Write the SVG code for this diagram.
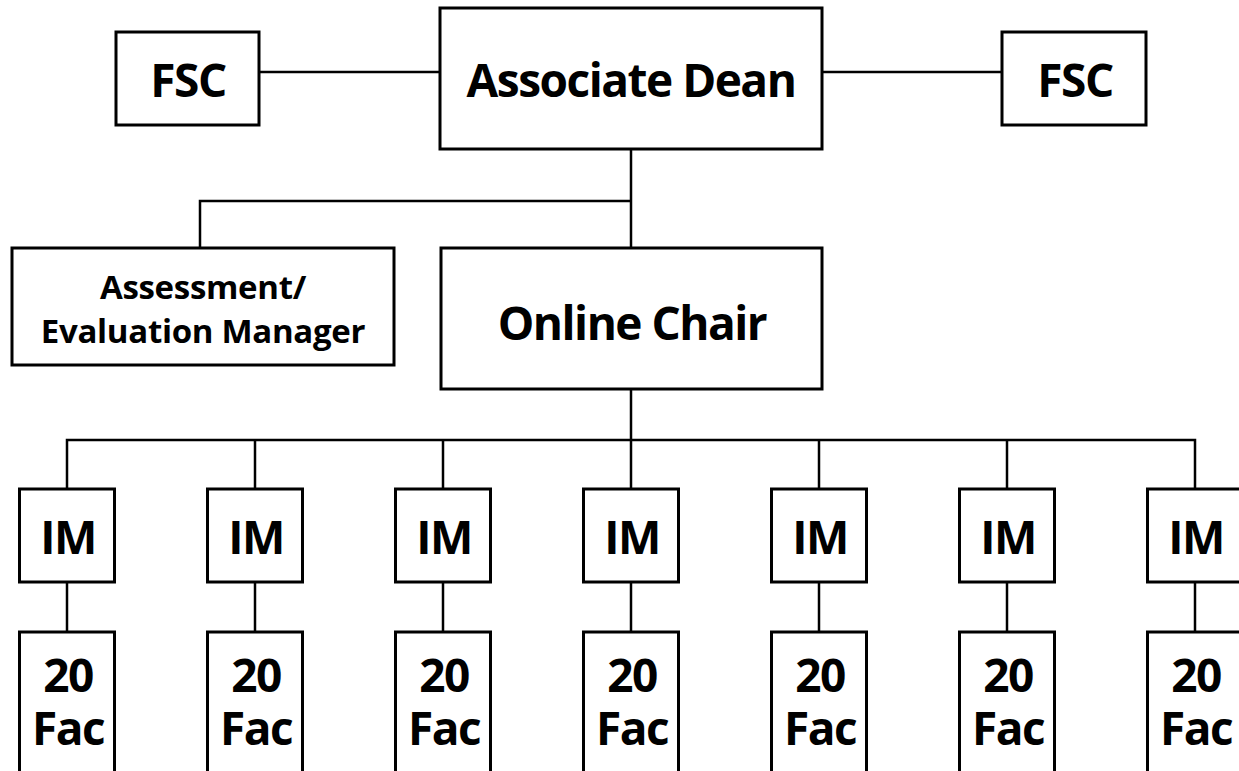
<svg xmlns="http://www.w3.org/2000/svg" width="1239" height="771" viewBox="0 0 1239 771">
<style>
.box{fill:#fff;stroke:#000;stroke-width:3}
.ln{fill:none;stroke:#000;stroke-width:2.5}
text{font-family:"Open Sans","Noto Sans","Liberation Sans",sans-serif;font-weight:bold;fill:#000;text-anchor:middle}
.big{font-size:46px;letter-spacing:-1.5px}
.mid{font-size:33px;letter-spacing:-0.3px}
</style>
<rect width="1239" height="771" fill="#fff"/>
<g id="connectors">
<line class="ln" x1="259" y1="72" x2="440" y2="72"/>
<line class="ln" x1="822" y1="72" x2="1002" y2="72"/>
<line class="ln" x1="631" y1="149" x2="631" y2="248"/>
<polyline class="ln" points="631,201 200,201 200,248"/>
<line class="ln" x1="631" y1="389" x2="631" y2="489"/>
<polyline class="ln" points="67,489 67,440 1195,440 1195,489"/>
<line class="ln" x1="255" y1="440" x2="255" y2="489"/>
<line class="ln" x1="443" y1="440" x2="443" y2="489"/>
<line class="ln" x1="819" y1="440" x2="819" y2="489"/>
<line class="ln" x1="1007" y1="440" x2="1007" y2="489"/>
<line class="ln" x1="67" y1="582" x2="67" y2="632"/>
<line class="ln" x1="255" y1="582" x2="255" y2="632"/>
<line class="ln" x1="443" y1="582" x2="443" y2="632"/>
<line class="ln" x1="631" y1="582" x2="631" y2="632"/>
<line class="ln" x1="819" y1="582" x2="819" y2="632"/>
<line class="ln" x1="1007" y1="582" x2="1007" y2="632"/>
<line class="ln" x1="1195" y1="582" x2="1195" y2="632"/>
</g>
<g id="fsc-left"><rect class="box" x="116" y="32" width="143" height="93"/><text class="big" x="188" y="97">FSC</text></g>
<g id="associate-dean"><rect class="box" x="440" y="8" width="382" height="141"/><text class="big" x="631" y="97">Associate Dean</text></g>
<g id="fsc-right"><rect class="box" x="1002" y="32" width="144" height="93"/><text class="big" x="1075" y="97">FSC</text></g>
<g id="assessment"><rect class="box" x="12" y="248" width="382" height="117"/><text class="mid" x="203" y="299">Assessment/<tspan x="203" dy="44">Evaluation Manager</tspan></text></g>
<g id="online-chair"><rect class="box" x="441" y="248" width="381" height="141"/><text class="big" x="632" y="340">Online Chair</text></g>
<g id="im1"><rect class="box" x="19.5" y="489" width="95" height="93"/><text class="big" x="68" y="554">IM</text></g>
<g id="im2"><rect class="box" x="207.5" y="489" width="95" height="93"/><text class="big" x="256" y="554">IM</text></g>
<g id="im3"><rect class="box" x="395.5" y="489" width="95" height="93"/><text class="big" x="444" y="554">IM</text></g>
<g id="im4"><rect class="box" x="583.5" y="489" width="95" height="93"/><text class="big" x="632" y="554">IM</text></g>
<g id="im5"><rect class="box" x="771.5" y="489" width="95" height="93"/><text class="big" x="820" y="554">IM</text></g>
<g id="im6"><rect class="box" x="959.5" y="489" width="95" height="93"/><text class="big" x="1008" y="554">IM</text></g>
<g id="im7"><rect class="box" x="1147.5" y="489" width="95" height="93"/><text class="big" x="1196" y="554">IM</text></g>
<g id="fac1"><rect class="box" x="19.5" y="632" width="95" height="150"/><text class="big" x="68" y="692">20<tspan x="68" dy="53">Fac</tspan></text></g>
<g id="fac2"><rect class="box" x="207.5" y="632" width="95" height="150"/><text class="big" x="256" y="692">20<tspan x="256" dy="53">Fac</tspan></text></g>
<g id="fac3"><rect class="box" x="395.5" y="632" width="95" height="150"/><text class="big" x="444" y="692">20<tspan x="444" dy="53">Fac</tspan></text></g>
<g id="fac4"><rect class="box" x="583.5" y="632" width="95" height="150"/><text class="big" x="632" y="692">20<tspan x="632" dy="53">Fac</tspan></text></g>
<g id="fac5"><rect class="box" x="771.5" y="632" width="95" height="150"/><text class="big" x="820" y="692">20<tspan x="820" dy="53">Fac</tspan></text></g>
<g id="fac6"><rect class="box" x="959.5" y="632" width="95" height="150"/><text class="big" x="1008" y="692">20<tspan x="1008" dy="53">Fac</tspan></text></g>
<g id="fac7"><rect class="box" x="1147.5" y="632" width="95" height="150"/><text class="big" x="1196" y="692">20<tspan x="1196" dy="53">Fac</tspan></text></g>
</svg>
